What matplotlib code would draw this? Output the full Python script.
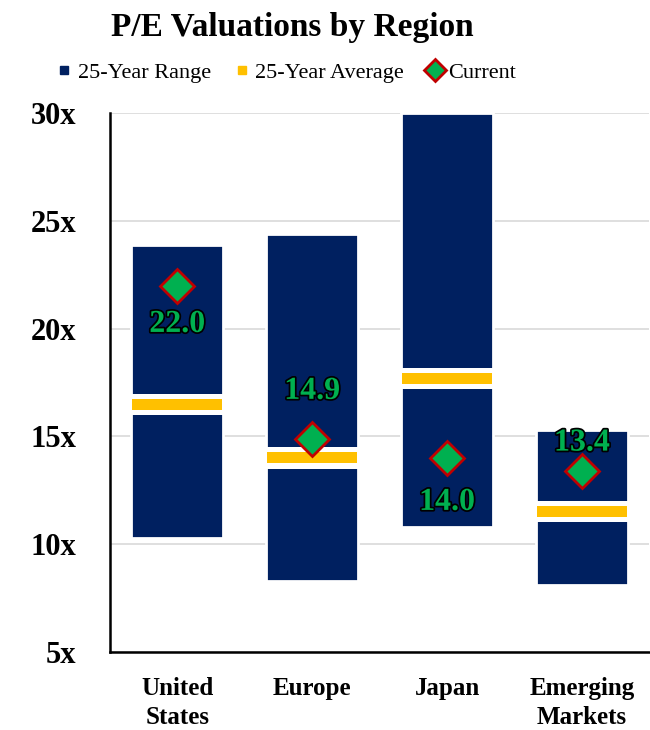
import matplotlib.pyplot as plt
import matplotlib.patheffects as pe
from matplotlib.lines import Line2D
import numpy as np

regions = ["United\nStates", "Europe", "Japan", "Emerging\nMarkets"]
range_low = [10.3, 8.3, 10.8, 8.1]
range_high = [23.9, 24.4, 30.0, 15.3]
avg_25y = [16.5, 14.0, 17.7, 11.5]
current = [22.0, 14.9, 14.0, 13.4]

# label offsets (points) relative to the diamond, per region
label_dy = [-28, 34, -32, 20]

NAVY = "#002060"
GOLD = "#FFC000"
GREEN = "#00B050"
RED = "#C00000"

plt.rcParams["font.family"] = ["Liberation Serif", "DejaVu Serif"]

fig = plt.figure(figsize=(6.5, 7.3), dpi=100)
ax = fig.add_axes([0.169, 0.107, 0.83, 0.738])

x = np.arange(len(regions))
low = np.array(range_low)
high = np.array(range_high)
avg = np.array(avg_25y)
w = 0.68

ax.bar(x, high - low, bottom=low, width=w, color=NAVY, edgecolor="white",
       linewidth=2.0, zorder=2)
# white gap around the average marker, then the gold band
ax.bar(x, 0.98, bottom=avg - 0.49, width=w, color="white", linewidth=0, zorder=3)
ax.bar(x, 0.51, bottom=avg - 0.255, width=w - 0.012, color=GOLD, linewidth=0, zorder=4)

ax.plot(x, current, linestyle="none", marker="D", markersize=17,
        markerfacecolor=GREEN, markeredgecolor=RED, markeredgewidth=2, zorder=5)

for xi, v, dy in zip(x, current, label_dy):
    ax.annotate(f"{v:.1f}", (xi, v), xytext=(0, dy), textcoords="offset points",
                ha="center", va="center", fontsize=23, fontweight="bold",
                color=GREEN, zorder=6,
                path_effects=[pe.withStroke(linewidth=2.5, foreground="black")])

ax.set_xlim(-0.5, len(regions) - 0.5)
ax.set_ylim(5, 30)
ax.set_yticks([5, 10, 15, 20, 25, 30])
ax.set_yticklabels([f"{t}x" for t in [5, 10, 15, 20, 25, 30]],
                   fontsize=22, fontweight="bold")
ax.set_xticks(x)
ax.set_xticklabels(regions, fontsize=18, fontweight="bold", linespacing=1.35)
ax.tick_params(axis="y", length=0, pad=24)
ax.tick_params(axis="x", length=0, pad=18)

ax.grid(axis="y", color="#D9D9D9", linewidth=1.2, zorder=0)
ax.set_axisbelow(True)
for side in ("top", "right"):
    ax.spines[side].set_visible(False)
for side in ("left", "bottom"):
    ax.spines[side].set_linewidth(1.8)
    ax.spines[side].set_color("black")

fig.text(0.45, 0.962, "P/E Valuations by Region", ha="center", va="center",
         fontsize=24, fontweight="bold")

handles = [
    Line2D([], [], linestyle="none", marker="s", markersize=6, color=NAVY),
    Line2D([], [], linestyle="none", marker="s", markersize=6, color=GOLD),
    Line2D([], [], linestyle="none", marker="D", markersize=11,
           markerfacecolor=GREEN, markeredgecolor=RED, markeredgewidth=2),
]
fig.legend(handles, ["25-Year Range", "25-Year Average", "Current"],
           loc="center", bbox_to_anchor=(0.44, 0.90), ncol=3, frameon=False,
           fontsize=16, handletextpad=0.2, columnspacing=1.0, handlelength=0.8)

fig.savefig("out.png", dpi=100)
